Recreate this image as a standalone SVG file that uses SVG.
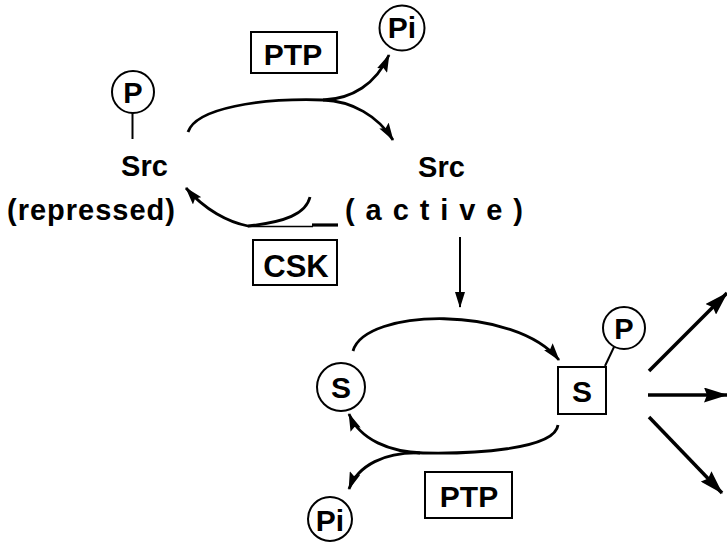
<svg xmlns="http://www.w3.org/2000/svg" width="727" height="542" viewBox="0 0 727 542">
<defs>
<style>
.t{font-family:"Liberation Sans",Arial,Helvetica,sans-serif;font-weight:bold;fill:#000;text-anchor:middle}
.b{fill:#fff;stroke:#000;stroke-width:2}
.a{fill:none;stroke:#000;stroke-width:2.8}
.r{fill:none;stroke:#000;stroke-width:3.5}
</style>
<marker id="ah" viewBox="0 0 18 11" markerWidth="18" markerHeight="11" refX="17" refY="5.5" orient="auto" markerUnits="userSpaceOnUse">
<path d="M0,0 L18,5.5 L0,11 L3,5.5 z" fill="#000"/>
</marker>
<marker id="ahs" viewBox="0 0 16 10" markerWidth="16" markerHeight="10" refX="15" refY="5" orient="auto" markerUnits="userSpaceOnUse">
<path d="M0,0 L16,5 L0,10 z" fill="#000"/>
</marker>
<marker id="ahb" viewBox="0 0 24 15" markerWidth="24" markerHeight="15" refX="23" refY="7.5" orient="auto" markerUnits="userSpaceOnUse">
<path d="M0,0 L24,7.5 L0,15 L3,7.5 z" fill="#000"/>
</marker>
</defs>
<rect width="727" height="542" fill="#fff"/>

<g id="connectors">
<path class="a" d="M188,132 C196,108 260,98 323,100 C352,101 378,116 393,140" marker-end="url(#ah)"/>
<path class="a" d="M323,100 C352,99 376,84 389,55" marker-end="url(#ah)"/>
<path class="a" d="M310,197 C306,214 285,222 248,226 C228,222 205,210 186,188" marker-end="url(#ah)"/>
<path fill="none" stroke="#000" stroke-width="1.5" d="M248,226.5 H313"/>
<path fill="none" stroke="#000" stroke-width="3.2" d="M312,225 H338"/>
<path fill="none" stroke="#000" stroke-width="2" d="M460,237 V307" marker-end="url(#ahs)"/>
<path class="a" d="M353,351 C365,308 515,305 559,360" marker-end="url(#ah)"/>
<path class="a" d="M558,425 C555,450 470,454 423,453 C390,452 360,440 349,414" marker-end="url(#ah)"/>
<path class="a" d="M420,453 C385,452 358,465 349,489" marker-end="url(#ah)"/>
<path class="r" d="M649,371 L727,293" marker-end="url(#ahb)"/>
<path class="r" d="M648,395 L727,395" marker-end="url(#ahb)"/>
<path class="r" d="M649,417 L722,493" marker-end="url(#ahb)"/>
</g>

<g id="ptp-top">
<rect class="b" x="251" y="32" width="86" height="41"/>
<text class="t" x="293" y="65" font-size="30">PTP</text>
</g>

<g id="pi-top">
<circle class="b" cx="402" cy="28" r="22.5"/>
<text class="t" x="402" y="38" font-size="30">Pi</text>
</g>

<g id="p-left">
<circle class="b" cx="133" cy="92" r="21"/>
<text class="t" x="133" y="102.5" font-size="29">P</text>
<line x1="132.5" y1="113" x2="132.5" y2="139" stroke="#000" stroke-width="2"/>
</g>

<g id="src-repressed">
<text class="t" x="144.5" y="176" font-size="29">Src</text>
<text class="t" x="91" y="220" font-size="29" textLength="168" lengthAdjust="spacing">(repressed)</text>
</g>

<g id="src-active">
<text class="t" x="441.5" y="177" font-size="29">Src</text>
<text class="t" x="345" y="220" font-size="29" style="text-anchor:start" textLength="178" lengthAdjust="spacing">( a c t i v e )</text>
</g>

<g id="csk">
<rect class="b" x="253" y="240" width="84" height="45"/>
<text class="t" x="296" y="277" font-size="31">CSK</text>
</g>

<g id="s-circle">
<circle class="b" cx="341" cy="387" r="24"/>
<text class="t" x="341" y="398" font-size="30">S</text>
</g>

<g id="s-box">
<rect class="b" x="558" y="367" width="48" height="47"/>
<text class="t" x="582" y="402" font-size="30">S</text>
<line x1="605" y1="366" x2="614" y2="347" stroke="#000" stroke-width="2"/>
</g>

<g id="p-right">
<circle class="b" cx="624" cy="328" r="21"/>
<text class="t" x="624" y="338.5" font-size="29">P</text>
</g>

<g id="ptp-bottom">
<rect class="b" x="425" y="472" width="87" height="46"/>
<text class="t" x="469" y="507" font-size="30">PTP</text>
</g>

<g id="pi-bottom">
<circle class="b" cx="330" cy="519" r="22"/>
<text class="t" x="330" y="531" font-size="30">Pi</text>
</g>
</svg>
